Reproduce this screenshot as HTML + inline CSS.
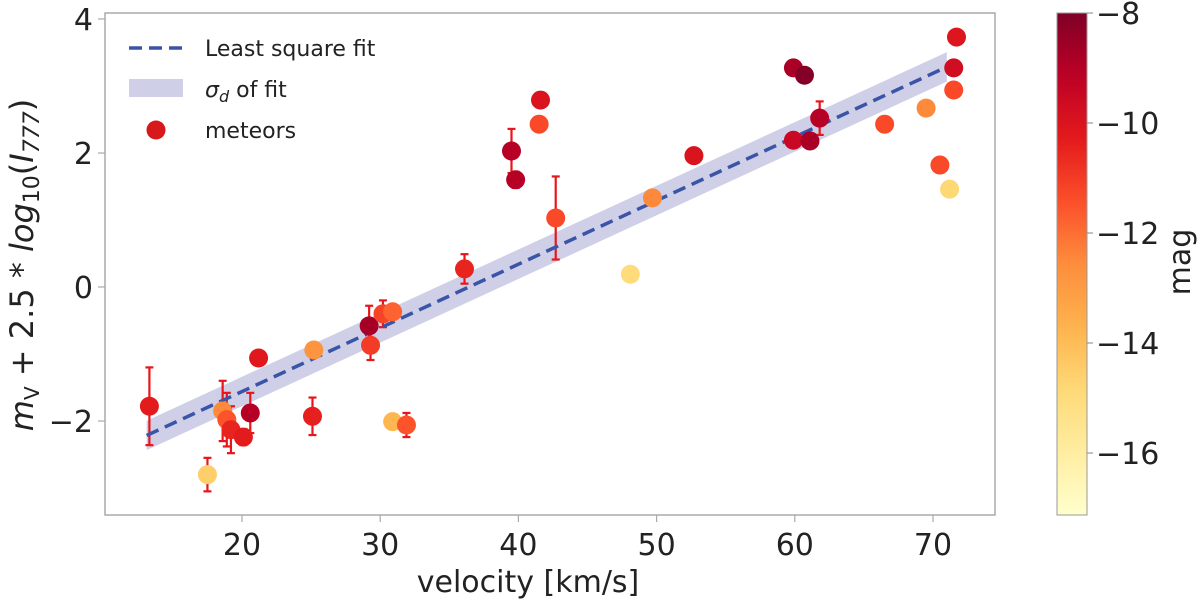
<!DOCTYPE html>
<html><head><meta charset="utf-8"><style>
html,body{margin:0;padding:0;background:#fff;width:1200px;height:602px;overflow:hidden}
svg{display:block;font-family:"DejaVu Sans","Liberation Sans",sans-serif}
</style></head><body>
<svg id="chart" width="1200" height="602" viewBox="0 0 1200 602">
<g id="plot"></g>
</svg>
<script>
const velocity=[13.3,17.5,18.6,18.9,19.2,20.1,20.6,21.2,25.2,25.1,29.2,29.3,30.2,30.9,30.9,31.9,36.1,39.5,39.8,41.6,41.5,42.7,48.1,49.7,52.7,59.9,60.7,59.9,61.1,61.8,66.5,69.5,70.5,71.2,71.7,71.5,71.5];
const yValues=[-1.78,-2.8,-1.85,-1.98,-2.13,-2.24,-1.88,-1.06,-0.94,-1.93,-0.58,-0.87,-0.4,-0.37,-2.01,-2.06,0.27,2.03,1.6,2.79,2.43,1.03,0.19,1.33,1.96,3.27,3.16,2.19,2.18,2.52,2.43,2.67,1.82,1.46,3.73,3.27,2.94];
const yErr=[0.58,0.25,0.45,0.4,0.35,0.12,0.3,0.1,0,0.28,0.3,0.22,0.2,0,0,0.18,0.22,0.33,0.12,0,0,0.62,0,0,0,0,0,0.1,0,0.25,0,0,0,0,0,0,0];
const mag=[-10.3,-14.5,-12.5,-11.5,-10.5,-10.3,-9,-10.2,-12.8,-10.4,-8.7,-11,-11.2,-11.8,-13.8,-11.5,-10.5,-9,-9,-10,-11.3,-11.3,-15,-12.5,-10,-8.8,-8.1,-9.5,-8.8,-9,-11.3,-12.5,-11.3,-14.8,-10.1,-9.7,-11.3];
const fitSlope=0.095, fitIntercept=-3.46, fitSigma=0.22, fitRange=[13.1,71.0];
const xTicks=[20,30,40,50,60,70];
const yTicks=[4,2,0,-2];
const cbTicks=[-8,-10,-12,-14,-16];

const NS='http://www.w3.org/2000/svg';
const svg=document.getElementById('chart');
const L=105,R=995,T=13,B=515;
const X=v=>242+(v-20)*13.82;
const Y=v=>287-v*67;
const cbT=13,cbB=515,cbL=1057,cbR=1087;
const CB=m=>cbT+(-8-m)*55;
const stops=['#ffffcc','#ffeda0','#fed976','#feb24c','#fd8d3c','#fc4e2a','#e31a1c','#bd0026','#800026'];
function hex(h){return[1,3,5].map(i=>parseInt(h.substr(i,2),16));}
function cmap(m){let t=(m+17.1)/9.1;t=Math.max(0,Math.min(1,t));const p=t*8,i=Math.min(7,Math.floor(p)),f=p-i;const a=hex(stops[i]),b=hex(stops[i+1]);return 'rgb('+a.map((c,k)=>Math.round(c+(b[k]-c)*f)).join(',')+')';}
function el(tag,attrs,parent){const e=document.createElementNS(NS,tag);for(const k in attrs)e.setAttribute(k,attrs[k]);(parent||svg).appendChild(e);return e;}
const plot=document.getElementById('plot');

const fr=el('rect',{x:L,y:T,width:R-L,height:B-T,fill:'none',stroke:'#aaa','stroke-width':1.5},plot);



const x0=fitRange[0],x1=fitRange[1];
const band=el('polygon',{points:[[X(x0),Y(fitIntercept+fitSlope*x0+fitSigma)],[X(x1),Y(fitIntercept+fitSlope*x1+fitSigma)],[X(x1),Y(fitIntercept+fitSlope*x1-fitSigma)],[X(x0),Y(fitIntercept+fitSlope*x0-fitSigma)]].map(p=>p.join(',')).join(' '),fill:'#cfcfe8'},plot);



for(let i=0;i<velocity.length;i++){
 if(!yErr[i])continue;
 const cx=X(velocity[i]),y1=Y(yValues[i]+yErr[i]),y2=Y(yValues[i]-yErr[i]);
 const g=el('g',{stroke:'#e8161b','stroke-width':2.2},plot);
 
 
 el('line',{x1:cx,x2:cx,y1:y1,y2:y2},g);
 el('line',{x1:cx-4,x2:cx+4,y1:y1,y2:y1},g);
 el('line',{x1:cx-4,x2:cx+4,y1:y2,y2:y2},g);
}
const fl=el('line',{x1:X(x0),y1:Y(fitIntercept+fitSlope*x0),x2:X(x1),y2:Y(fitIntercept+fitSlope*x1),stroke:'#3a55a8','stroke-width':3.5,'stroke-dasharray':'13,7'},plot);



for(let i=0;i<velocity.length;i++){
 const c=el('circle',{cx:X(velocity[i]),cy:Y(yValues[i]),r:9.5,fill:cmap(mag[i])},plot);
 
 
}

xTicks.forEach(v=>{
 const t=el('line',{x1:X(v),x2:X(v),y1:B,y2:B+7,stroke:'#aaa','stroke-width':1.2});
 
 
 const tx=el('text',{x:X(v),y:555,'font-size':30,'text-anchor':'middle',fill:'#222'});
 tx.textContent=v;
 
 
});
yTicks.forEach(v=>{
 const t=el('line',{x1:L-7,x2:L,y1:Y(v),y2:Y(v),stroke:'#aaa','stroke-width':1.2});
 
 
 const tx=el('text',{x:L-12,y:Y(v)+11,'font-size':30,'text-anchor':'end',fill:'#222'});
 tx.textContent=v<0?'\u2212'+(-v):v;
 
 
});

const defs=el('defs',{});
const lg=el('linearGradient',{id:'cbg',x1:0,y1:0,x2:0,y2:1},defs);
for(let k=0;k<=20;k++){const m=-8-(k/20)*((cbB-cbT)/55);el('stop',{offset:(k/20),'stop-color':cmap(m)},lg);}
const cb=el('rect',{x:cbL,y:cbT,width:cbR-cbL,height:cbB-cbT,fill:'url(#cbg)',stroke:'#999','stroke-width':1});


cbTicks.forEach(m=>{
 const t=el('line',{x1:cbR,x2:cbR+6,y1:CB(m),y2:CB(m),stroke:'#999','stroke-width':1.2});
 
 
 const tx=el('text',{x:cbR+9,y:CB(m)+11,'font-size':30,fill:'#222'});
 tx.textContent='\u2212'+(-m);
 
 
});
</script>
<svg style="position:absolute;left:0;top:0" width="1200" height="602">
<text x="1190" y="262" font-size="30" fill="#222" transform="rotate(-90 1190 262)" text-anchor="middle" font-family="DejaVu Sans, sans-serif">mag</text>
<text x="528" y="592" font-size="30" fill="#222" text-anchor="middle" font-family="DejaVu Sans, sans-serif">velocity [km/s]</text>
<text x="33" y="265" font-size="32" fill="#222" transform="rotate(-90 33 265)" text-anchor="middle" font-family="DejaVu Sans, sans-serif"><tspan font-style="italic">m</tspan><tspan font-size="20" dy="6">V</tspan><tspan dy="-6"> + 2.5 * </tspan><tspan font-style="italic">log</tspan><tspan font-size="22" dy="6">10</tspan><tspan dy="-6">(</tspan><tspan font-style="italic">I</tspan><tspan font-size="22" dy="6" font-style="italic">777</tspan><tspan dy="-6">)</tspan></text>
<g font-family="DejaVu Sans, sans-serif" font-size="22" fill="#222">
<line x1="129" y1="48" x2="183" y2="48" stroke="#3a55a8" stroke-width="3.5" stroke-dasharray="13,7"/>
<text x="205" y="56">Least square fit</text>
<rect x="129" y="79" width="54" height="18" fill="#cfcfe8"/>
<text x="205" y="97"><tspan font-style="italic">σ</tspan><tspan font-style="italic" font-size="16" dy="5">d</tspan><tspan dy="-5"> of fit</tspan></text>
<circle cx="156" cy="130" r="9.5" fill="#d7191c"/>
<text x="205" y="138">meteors</text>
</g>
</svg>
</body></html>
